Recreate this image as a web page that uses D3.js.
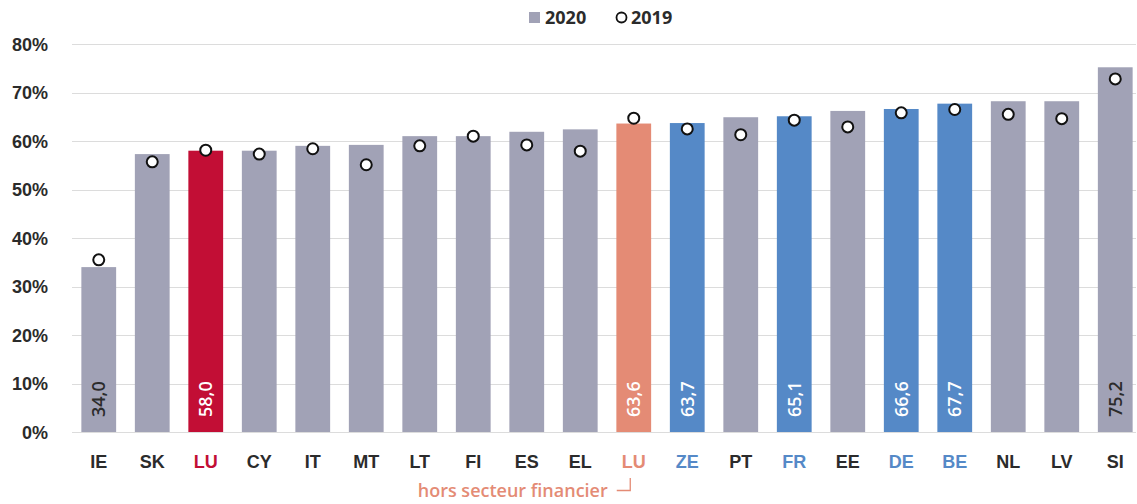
<!DOCTYPE html>
<html>
<head>
<meta charset="utf-8">
<script src="https://cdn.jsdelivr.net/npm/d3@7"></script>
<style>
  body { margin: 0; background: #fff; }
  svg { font-family: "Open Sans", "Noto Sans", sans-serif; }
</style>
</head>
<body>
<div id="chart"></div>
<script>
// data
var keys = ["IE", "SK", "LU", "CY", "IT", "MT", "LT", "FI", "ES", "EL", "LUx", "ZE", "PT", "FR", "EE", "DE", "BE", "NL", "LV", "SI"];
var labels = ["IE", "SK", "LU", "CY", "IT", "MT", "LT", "FI", "ES", "EL", "LU", "ZE", "PT", "FR", "EE", "DE", "BE", "NL", "LV", "SI"];
var values2020 = [34.0, 57.3, 58.0, 58.0, 59.0, 59.2, 61.0, 61.0, 61.9, 62.4, 63.6, 63.7, 64.9, 65.1, 66.2, 66.6, 67.7, 68.2, 68.2, 75.2];
var values2019 = [35.5, 55.7, 58.1, 57.3, 58.4, 55.1, 59.0, 61.0, 59.2, 57.9, 64.7, 62.5, 61.3, 64.3, 62.9, 65.8, 66.5, 65.5, 64.6, 72.8];
var shownLabels = ["IE", "LU", "LUx", "ZE", "FR", "DE", "BE", "SI"];
var yTicks = [0, 10, 20, 30, 40, 50, 60, 70, 80];

// colours
var barColor = {LU: "#c20e35", LUx: "#e48b75", ZE: "#5589c7", FR: "#5589c7", DE: "#5589c7", BE: "#5589c7"};
var grey = "#a1a2b6";

var W = 1137, H = 504;
var svg = d3.select("#chart").append("svg")
    .attr("width", W)
    .attr("height", H);

var x = d3.scaleBand()
    .domain(keys)
    .range([72, 1142])
    .paddingInner(0.35)
    .paddingOuter(0.175);

var y = d3.scaleLinear()
    .domain([0, 80])
    .range([432, 44]);

// grid
svg.append("g")
    .selectAll("line")
    .data(yTicks)
    .enter().append("line")
    .attr("x1", 72)
    .attr("x2", 1136)
    .attr("y1", function (d) { return Math.round(y(d)) + 0.5; })
    .attr("y2", function (d) { return Math.round(y(d)) + 0.5; })
    .attr("stroke", "#dcdcdc")
    .attr("stroke-width", 1);

// y axis labels
var yAxis = d3.axisLeft(y)
    .tickValues(yTicks)
    .tickFormat(function (d) { return d + "%"; })
    .tickSize(0)
    .tickPadding(0);
var gy = svg.append("g")
    .attr("transform", "translate(48,0)")
    .call(yAxis);
gy.select(".domain").remove();
gy.selectAll("text")
    .attr("fill", "#2b2b2b")
    .style("font-size", "18px")
    .style("font-weight", "700")
    .attr("dy", "0.35em");

// bars
svg.append("g")
    .selectAll("rect")
    .data(keys)
    .enter().append("rect")
    .attr("x", function (d) { return x(d); })
    .attr("width", x.bandwidth())
    .attr("y", function (d, i) { return y(values2020[i]); })
    .attr("height", function (d, i) { return y(0) - y(values2020[i]); })
    .attr("fill", function (d) { return barColor[d] || grey; });

// value labels
svg.append("g")
    .selectAll("text")
    .data(keys.filter(function (d) { return shownLabels.indexOf(d) >= 0; }))
    .enter().append("text")
    .attr("transform", function (d) {
        return "translate(" + (x(d) + x.bandwidth() / 2 + 6.5) + "," + (y(0) - 15) + ") rotate(-90)";
    })
    .attr("text-anchor", "start")
    .style("font-size", "18px")
    .style("font-weight", "600")
    .attr("fill", function (d) { return barColor[d] ? "#fff" : "#2b2b2b"; })
    .text(function (d) {
        var v = values2020[keys.indexOf(d)];
        return v.toFixed(1).replace(".", ",");
    });

// 2019 markers
svg.append("g")
    .selectAll("circle")
    .data(keys)
    .enter().append("circle")
    .attr("cx", function (d) { return x(d) + x.bandwidth() / 2; })
    .attr("cy", function (d, i) { return y(values2019[i]); })
    .attr("r", 5.5)
    .attr("fill", "#fff")
    .attr("stroke", "#111")
    .attr("stroke-width", 2);

// x axis labels
var xAxis = d3.axisBottom(x)
    .tickSize(0)
    .tickPadding(0)
    .tickFormat(function (d) { return labels[keys.indexOf(d)]; });
var gx = svg.append("g")
    .attr("transform", "translate(0,462)")
    .call(xAxis);
gx.select(".domain").remove();
gx.selectAll("text")
    .attr("y", 0)
    .attr("dy", "0.35em")
    .style("font-size", "18px")
    .style("font-weight", "700")
    .attr("fill", function (d) { return barColor[d] || "#2b2b2b"; });

// annotation under second LU
var cx = x("LUx") + x.bandwidth() / 2;
svg.append("text")
    .attr("x", cx - 26)
    .attr("y", 497)
    .attr("text-anchor", "end")
    .style("font-size", "18px")
    .style("font-weight", "600")
    .attr("fill", "#e48b75")
    .text("hors secteur financier");
svg.append("path")
    .attr("d", "M" + (cx - 17) + ",490.5 H" + (cx - 3.5) + " V478")
    .attr("fill", "none")
    .attr("stroke", "#e48b75")
    .attr("stroke-width", 1.3);

// legend
var lg = svg.append("g").style("font-size", "18px").style("font-weight", "700").attr("fill", "#2b2b2b");
lg.append("rect").attr("x", 529).attr("y", 12).attr("width", 11).attr("height", 11).attr("fill", grey);
lg.append("text").attr("x", 545).attr("y", 24).text("2020");
lg.append("circle").attr("cx", 621.5).attr("cy", 17.5).attr("r", 5).attr("fill", "#fff").attr("stroke", "#111").attr("stroke-width", 1.8);
lg.append("text").attr("x", 631).attr("y", 24).text("2019");
</script>
</body>
</html>
